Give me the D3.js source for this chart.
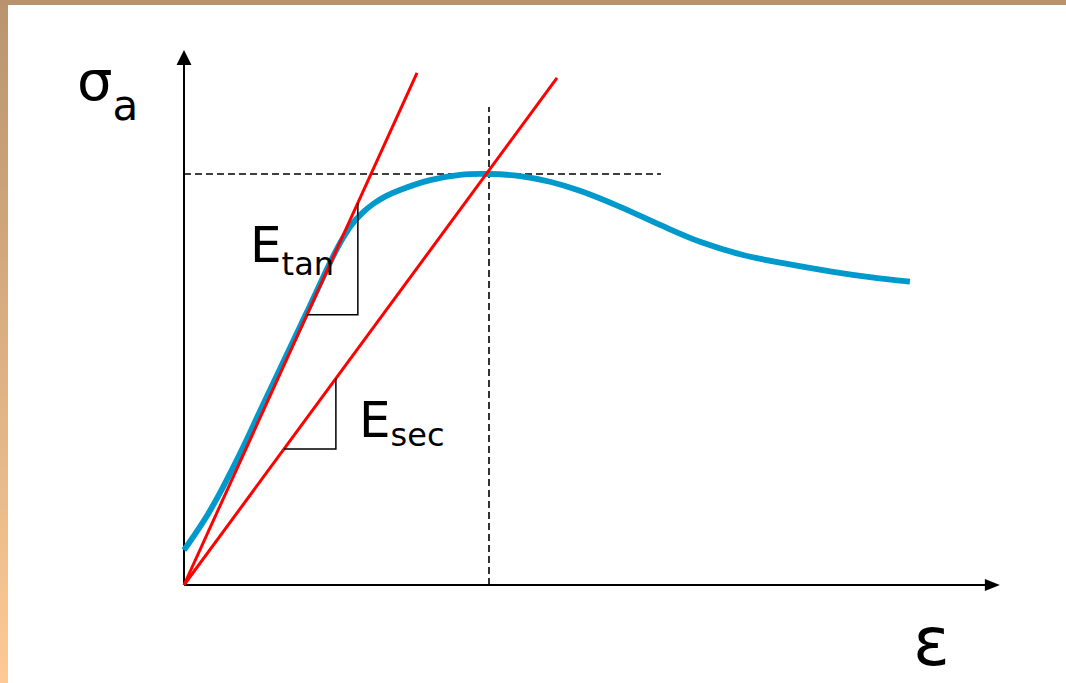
<!DOCTYPE html>
<html>
<head>
<meta charset="utf-8">
<script src="https://cdn.jsdelivr.net/npm/d3@7"></script>
<style>
  html, body { margin: 0; padding: 0; background: #fff; }
  svg { display: block; }
  text { font-family: "DejaVu Sans", Verdana, sans-serif; fill: #000; }
</style>
</head>
<body>
<div id="chart"></div>
<script>
// Data (normalised: peak stress/strain = 1)
const strain = [0, 0.039, 0.079, 0.118, 0.157, 0.200, 0.249, 0.315, 0.403, 0.489, 0.521, 0.551,
  0.584, 0.620, 0.662, 0.708, 0.807, 0.905, 1.000, 1.102, 1.200, 1.298, 1.430, 1.561, 1.692, 1.833,
  1.964, 2.128, 2.249, 2.380];
const stress = [0.085, 0.127, 0.173, 0.224, 0.280, 0.345, 0.423, 0.526, 0.664, 0.800, 0.844, 0.878,
  0.905, 0.927, 0.946, 0.961, 0.985, 0.998, 1.000, 0.995, 0.981, 0.959, 0.920, 0.876, 0.835, 0.803,
  0.783, 0.762, 0.749, 0.738];

const peak = [1.0, 1.0];
const tangentEnd = [0.764, 1.246];
const secantEnd = [1.223, 1.234];
const axisMax = [2.675, 1.302];
const dashEnds = [1.564, 1.163]; // horizontal x end, vertical y end
const tanStep = [0.403, 0.570];  // x start / end of slope triangle
const secStep = [0.328, 0.498];

const W = 1066, H = 683;
const svg = d3.select('#chart').append('svg')
  .attr('width', W).attr('height', H);

// Slide frame
const defs = svg.append('defs');
const grad = defs.append('linearGradient').attr('id', 'side')
  .attr('x1', 0).attr('y1', 0).attr('x2', 0).attr('y2', 1);
grad.append('stop').attr('offset', '0%').attr('stop-color', '#b8946f');
grad.append('stop').attr('offset', '100%').attr('stop-color', '#fdca95');
svg.append('rect').attr('x', 0).attr('y', 0).attr('width', 8).attr('height', H).attr('fill', 'url(#side)');
svg.append('rect').attr('x', 0).attr('y', 0).attr('width', W).attr('height', 5).attr('fill', '#b8936e');

// Scales
const x = d3.scaleLinear().domain([0, 1]).range([184, 489]);
const y = d3.scaleLinear().domain([0, 1]).range([585, 174]);

// Dashed guide lines
svg.append('line')
  .attr('x1', x(0)).attr('y1', y(peak[1])).attr('x2', x(dashEnds[0])).attr('y2', y(peak[1]))
  .attr('stroke', '#000').attr('stroke-width', 1.6).attr('stroke-dasharray', '7,4');
svg.append('line')
  .attr('x1', x(peak[0])).attr('y1', y(0)).attr('x2', x(peak[0])).attr('y2', y(dashEnds[1]))
  .attr('stroke', '#000').attr('stroke-width', 1.6).attr('stroke-dasharray', '7,4');

// Axes with arrows
svg.append('line')
  .attr('x1', x(0)).attr('y1', y(0)).attr('x2', x(0)).attr('y2', y(axisMax[1]) + 14)
  .attr('stroke', '#000').attr('stroke-width', 2);
svg.append('line')
  .attr('x1', x(0)).attr('y1', y(0)).attr('x2', x(axisMax[0]) - 14).attr('y2', y(0))
  .attr('stroke', '#000').attr('stroke-width', 2);
const yt = y(axisMax[1]), xt = x(axisMax[0]);
svg.append('path')
  .attr('d', `M${x(0)},${yt} L${x(0) - 7.5},${yt + 15} L${x(0) + 7.5},${yt + 15} Z`)
  .attr('fill', '#000');
svg.append('path')
  .attr('d', `M${xt},${y(0)} L${xt - 15},${y(0) - 6} L${xt - 15},${y(0) + 6} Z`)
  .attr('fill', '#000');

// Stress-strain curve
const line = d3.line().x(d => x(d[0])).y(d => y(d[1])).curve(d3.curveCatmullRom.alpha(0.5));
svg.append('path')
  .datum(d3.zip(strain, stress))
  .attr('d', line)
  .attr('fill', 'none').attr('stroke', '#0099cc').attr('stroke-width', 5.8);

// Tangent and secant moduli
const tanSlope = tangentEnd[1] / tangentEnd[0];
const secSlope = secantEnd[1] / secantEnd[0];
[tangentEnd, secantEnd].forEach(end => {
  svg.append('line')
    .attr('x1', x(0)).attr('y1', y(0)).attr('x2', x(end[0])).attr('y2', y(end[1]))
    .attr('stroke', '#ff0000').attr('stroke-width', 3);
});

// Slope triangles
function stepTri(s, slope) {
  const p = d3.path();
  p.moveTo(x(s[0]), y(s[0] * slope));
  p.lineTo(x(s[1]), y(s[0] * slope));
  p.lineTo(x(s[1]), y(s[1] * slope));
  return p.toString();
}
svg.append('path').attr('d', stepTri(tanStep, tanSlope))
  .attr('fill', 'none').attr('stroke', '#000').attr('stroke-width', 1.5);
svg.append('path').attr('d', stepTri(secStep, secSlope))
  .attr('fill', 'none').attr('stroke', '#000').attr('stroke-width', 1.5);

// Labels
function label(px, py, main, sub, mainSize, subSize, dy) {
  const t = svg.append('text').attr('x', px).attr('y', py).style('font-size', mainSize + 'px');
  t.append('tspan').text(main);
  t.append('tspan').attr('dy', dy).style('font-size', subSize + 'px').text(sub);
}
label(77, 100, 'σ', 'a', 56, 42, 20);
label(250, 262, 'E', 'tan', 50, 32, 13);
label(359, 437, 'E', 'sec', 50, 32, 9);
svg.append('text').attr('x', 913).attr('y', 665).style('font-size', '68px').text('ε');
</script>
</body>
</html>
